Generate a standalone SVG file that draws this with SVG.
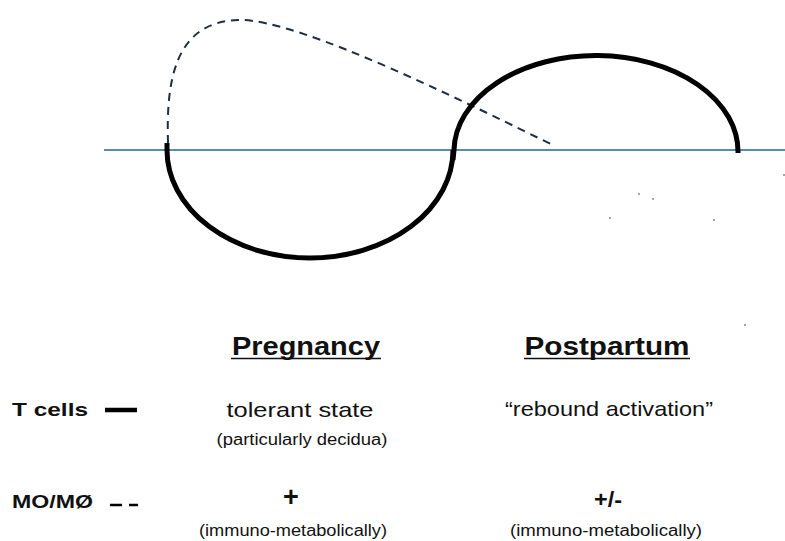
<svg xmlns="http://www.w3.org/2000/svg" width="785" height="541" viewBox="0 0 785 541">
<style>
.thick{fill:none;stroke:#000;stroke-width:5}
.dash{fill:none;stroke:#1f2f3f;stroke-width:2;stroke-dasharray:8 6}
.axis{stroke:#1b6699;stroke-width:1.6}
text{font-family:"Liberation Sans",Arial,sans-serif;fill:#111}
.h{font-weight:bold;font-size:26px;text-anchor:middle}
.lab{font-weight:bold;font-size:19px}
.t{font-size:21px;text-anchor:middle}
.s{font-size:16px;text-anchor:middle}
.p{font-weight:bold;font-size:22px;text-anchor:middle}
.plus{font-weight:bold;font-size:27px;text-anchor:middle}
.dot{fill:#333}
</style>
<rect width="785" height="541" fill="#fff"/>
<g id="connectors">
<line class="axis" x1="104" y1="150" x2="785" y2="150"/>
<path class="dash" d="M168,143 C166,80 175,22 238,20 C300,18 480,110 555,146"/>
<path class="thick" d="M167,143 L167,150 A143 108 0 0 0 453,150"/>
<path class="thick" d="M453,160 L454,150 A142 96 0 0 1 738,153"/>
</g>
<g id="noise">
<circle class="dot" cx="639" cy="194" r="0.8"/>
<circle class="dot" cx="653" cy="199" r="0.8"/>
<circle class="dot" cx="610" cy="218" r="0.8"/>
<circle class="dot" cx="714" cy="220" r="0.8"/>
<circle class="dot" cx="784" cy="175" r="0.8"/>
<circle class="dot" cx="745" cy="325" r="0.8"/>
</g>
<g id="pregnancy-header">
<text class="h" x="306" y="355" textLength="148" lengthAdjust="spacingAndGlyphs">Pregnancy</text>
<line x1="231" y1="358.5" x2="381" y2="358.5" stroke="#111" stroke-width="1.5"/>
</g>
<g id="postpartum-header">
<text class="h" x="607" y="355" textLength="165" lengthAdjust="spacingAndGlyphs">Postpartum</text>
<line x1="524" y1="358.5" x2="690" y2="358.5" stroke="#111" stroke-width="1.5"/>
</g>
<g id="tcells-label">
<text class="lab" x="12" y="416" textLength="76" lengthAdjust="spacingAndGlyphs">T cells</text>
<line x1="105" y1="410" x2="137" y2="410" stroke="#000" stroke-width="4.5"/>
</g>
<g id="tcells-pregnancy">
<text class="t" x="300" y="417" textLength="147" lengthAdjust="spacingAndGlyphs">tolerant state</text>
<text class="s" x="302" y="445" textLength="171" lengthAdjust="spacingAndGlyphs">(particularly decidua)</text>
</g>
<g id="tcells-postpartum">
<text class="t" x="609" y="416" textLength="208" lengthAdjust="spacingAndGlyphs">“rebound activation”</text>
</g>
<g id="mo-label">
<text class="lab" x="12" y="508" textLength="81" lengthAdjust="spacingAndGlyphs">MO/MØ</text>
<line x1="110" y1="505" x2="122" y2="505" stroke="#000" stroke-width="2.5"/>
<line x1="129" y1="505" x2="138" y2="505" stroke="#000" stroke-width="2.5"/>
</g>
<g id="mo-pregnancy">
<text class="plus" x="291" y="506">+</text>
<text class="s" x="293" y="536" textLength="188" lengthAdjust="spacingAndGlyphs">(immuno-metabolically)</text>
</g>
<g id="mo-postpartum">
<text class="p" x="608" y="507" textLength="28" lengthAdjust="spacingAndGlyphs">+/-</text>
<text class="s" x="606" y="536" textLength="192" lengthAdjust="spacingAndGlyphs">(immuno-metabolically)</text>
</g>
</svg>
